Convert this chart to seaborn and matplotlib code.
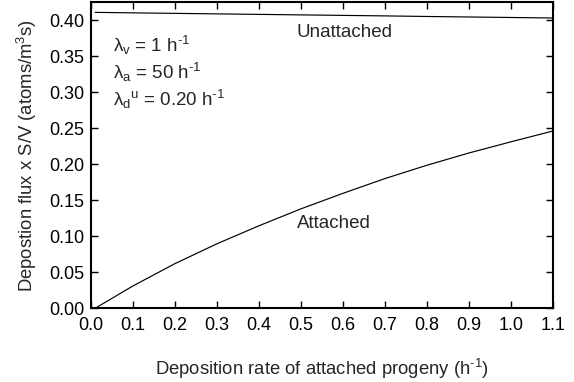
import matplotlib
matplotlib.use("Agg")
import matplotlib.pyplot as plt
import seaborn as sns
import pandas as pd

# Data
x_vals = [0.01, 0.1, 0.2, 0.3, 0.4, 0.5, 0.6, 0.7, 0.8, 0.9, 1.0, 1.1]
attached = [0.0, 0.031, 0.062, 0.0895, 0.1145, 0.138, 0.1595, 0.180, 0.1985, 0.2155, 0.231, 0.246]
unattached = [0.4106, 0.4099, 0.4092, 0.4085, 0.4078, 0.4071, 0.4064, 0.4057, 0.4049, 0.4042, 0.4035, 0.4028]
x_ticks = [0.0, 0.1, 0.2, 0.3, 0.4, 0.5, 0.6, 0.7, 0.8, 0.9, 1.0, 1.1]
y_ticks = [0.00, 0.05, 0.10, 0.15, 0.20, 0.25, 0.30, 0.35, 0.40]

df = pd.DataFrame({
    "x": x_vals * 2,
    "y": unattached + attached,
    "series": ["Unattached"] * len(x_vals) + ["Attached"] * len(x_vals),
})

sns.set_style("ticks")
plt.rcParams["font.family"] = ["Liberation Sans", "DejaVu Sans"]
plt.rcParams["mathtext.fontset"] = "custom"
plt.rcParams["mathtext.rm"] = "Liberation Sans"
plt.rcParams["mathtext.it"] = "Liberation Sans"

fig = plt.figure(figsize=(5.74, 3.82), dpi=100)
ax = fig.add_axes([0.1585, 0.1930, 0.8049, 0.8018])

sns.lineplot(data=df, x="x", y="y", hue="series", palette=["black", "black"],
             linewidth=0.85, legend=False, ax=ax, estimator=None)

ax.set_xlim(0, 1.1)
ax.set_ylim(0, 0.425)
ax.set_xticks(x_ticks)
ax.set_xticklabels([f"{v:.1f}" for v in x_ticks])
ax.set_yticks(y_ticks)
ax.set_yticklabels([f"{v:.2f}" for v in y_ticks])
ax.tick_params(direction="in", top=True, right=True, labeltop=False, labelright=False,
               length=5, width=1, labelsize=13, colors="black")
ax.tick_params(axis="x", pad=6)
ax.tick_params(axis="y", pad=5)
for s in ax.spines.values():
    s.set_visible(True)
    s.set_linewidth(1.5)
    s.set_color("black")

HY = "\u2010"
ax.set_xlabel("Deposition rate of attached progeny (h$^{\\mathregular{" + HY + "1}}$)", fontsize=13.3, labelpad=17)
ax.set_ylabel("Depostion flux x S/V (atoms/m$^{\\mathregular{3}}$s)", fontsize=13.3, labelpad=7)

fs = 13.5
ax.text(0.052, 0.364, "λ$_{\\mathregular{v}}$ = 1 h$^{\\mathregular{" + HY + "1}}$", fontsize=fs, va="center")
ax.text(0.052, 0.327, "λ$_{\\mathregular{a}}$ = 50 h$^{\\mathregular{" + HY + "1}}$", fontsize=fs, va="center")
ax.text(0.052, 0.290, "λ$_{\\mathregular{d}}$$^{\\mathregular{u}}$ = 0.20 h$^{\\mathregular{" + HY + "1}}$", fontsize=fs, va="center")
ax.text(0.49, 0.383, "Unattached", fontsize=fs, va="center")
ax.text(0.49, 0.118, "Attached", fontsize=fs, va="center")

fig.savefig("out.png", dpi=100)
